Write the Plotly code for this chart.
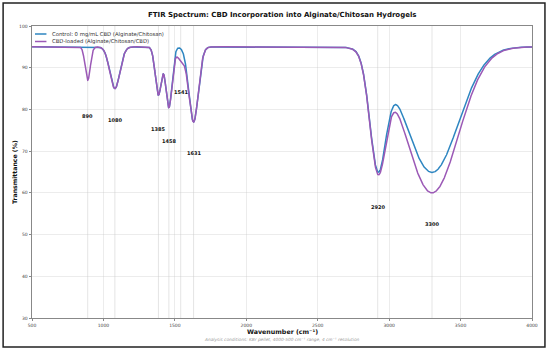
import numpy as np
import plotly.graph_objects as go

# ---- data ----
baseline = 95.0
peak_centers = [890, 1080, 1385, 1458, 1541, 1631, 2920, 3300]
peak_widths = [18, 35, 22, 22, 28, 33, 56, 185]          # gaussian sigma, cm-1
control_depths = [0, 10, 11.5, 14.5, 0, 18, 26.3, 30.1]  # % below baseline
cbd_depths = [8, 10, 11.5, 14.5, 2.9, 18, 26.3, 35.0]
peak_labels = ["890", "1080", "1385", "1458", "1541", "1631", "2920", "3300"]
label_y = [78.5, 77.5, 75.2, 72.4, 84.2, 69.5, 56.7, 52.5]
x_ticks = [500, 1000, 1500, 2000, 2500, 3000, 3500, 4000]
y_ticks = [30, 40, 50, 60, 70, 80, 90, 100]
series_names = ["Control: 0 mg/mL CBD (Alginate/Chitosan)", "CBD-loaded (Alginate/Chitosan/CBD)"]
colors = ["#2E86C1", "#9B59B6"]

wn = np.linspace(500, 4000, 3501)


def spectrum(depths):
    t = np.full_like(wn, baseline)
    for c, w, d in zip(peak_centers, peak_widths, depths):
        t -= d * np.exp(-((wn - c) ** 2) / (2 * w ** 2))
    return t


control = spectrum(control_depths)
cbd = spectrum(cbd_depths)

FONT = "DejaVu Sans"
L, R, T, B = 32, 16, 26, 33
W, H = 550, 351
PW, PH = W - L - R, H - T - B


def px(x):
    return (x - L) / PW


def py(y):
    return (T + PH - y) / PH


fig = go.Figure()
fig.add_trace(go.Scatter(x=wn, y=control, mode="lines", name=series_names[0],
                         line=dict(color=colors[0], width=1.5), showlegend=False))
fig.add_trace(go.Scatter(x=wn, y=cbd, mode="lines", name=series_names[1],
                         line=dict(color=colors[1], width=1.5), showlegend=False))

shapes = []
for c in peak_centers:
    shapes.append(dict(type="line", xref="x", yref="paper", x0=c, x1=c, y0=0, y1=1,
                       line=dict(color="rgba(180,180,180,0.45)", width=0.8), layer="below"))
# outer figure border
shapes.append(dict(type="rect", xref="paper", yref="paper",
                   x0=px(3), x1=px(547), y0=py(347), y1=py(3),
                   line=dict(color="#222222", width=1.5)))
# manual legend samples
for i, yy in enumerate([34, 41.5]):
    shapes.append(dict(type="line", xref="paper", yref="paper",
                       x0=px(35), x1=px(46.5), y0=py(yy), y1=py(yy),
                       line=dict(color=colors[i], width=1.5)))

annotations = []
for c, lab, ly in zip(peak_centers, peak_labels, label_y):
    annotations.append(dict(x=c, y=ly, xref="x", yref="y", text=lab, showarrow=False,
                            font=dict(family=FONT, size=5, color="#111111", weight="bold"),
                            xanchor="center", yanchor="middle"))
for i, yy in enumerate([34, 41.5]):
    annotations.append(dict(x=px(50), y=py(yy), xref="paper", yref="paper",
                            text=series_names[i], showarrow=False, xanchor="left",
                            yanchor="middle", font=dict(family=FONT, size=5.3, color="#333333")))
annotations.append(dict(x=0.5, y=py(339), xref="paper", yref="paper",
                        text="<i>Analysis conditions: KBr pellet, 4000-500 cm⁻¹ range, 4 cm⁻¹ resolution</i>",
                        showarrow=False, xanchor="center", yanchor="middle",
                        font=dict(family=FONT, size=4.3, color="#999999")))
annotations.append(dict(x=0.5, y=py(331), xref="paper", yref="paper",
                        text="<b>Wavenumber (cm⁻¹)</b>", showarrow=False, xanchor="center",
                        yanchor="middle", font=dict(family=FONT, size=6.3, color="#111111")))
annotations.append(dict(x=px(14), y=0.5, xref="paper", yref="paper",
                        text="<b>Transmittance (%)</b>", showarrow=False, textangle=-90,
                        xanchor="center", yanchor="middle",
                        font=dict(family=FONT, size=6.2, color="#111111")))
annotations.append(dict(x=0.5, y=py(14.5), xref="paper", yref="paper",
                        text="<b>FTIR Spectrum: CBD Incorporation into Alginate/Chitosan Hydrogels</b>",
                        showarrow=False, xanchor="center", yanchor="middle",
                        font=dict(family=FONT, size=7, color="#111111")))

axis_common = dict(showline=True, linecolor="#888888", linewidth=0.8, mirror=True,
                   ticks="outside", ticklen=2.5, tickcolor="#888888", tickwidth=0.8,
                   showgrid=True, gridcolor="rgba(200,200,200,0.35)", gridwidth=0.6,
                   zeroline=False, tickfont=dict(family=FONT, size=4.5, color="#444444"))

fig.update_layout(
    width=W, height=H,
    margin=dict(l=L, r=R, t=T, b=B, pad=0),
    paper_bgcolor="white", plot_bgcolor="white",
    xaxis=dict(range=[500, 4000], tickvals=x_ticks, **axis_common),
    yaxis=dict(range=[30, 100], tickvals=y_ticks, **axis_common),
    shapes=shapes, annotations=annotations, showlegend=False,
)

fig.write_html("out.html", config={"displayModeBar": False},
               post_script="document.body.style.margin='0';document.body.style.overflow='hidden';")
